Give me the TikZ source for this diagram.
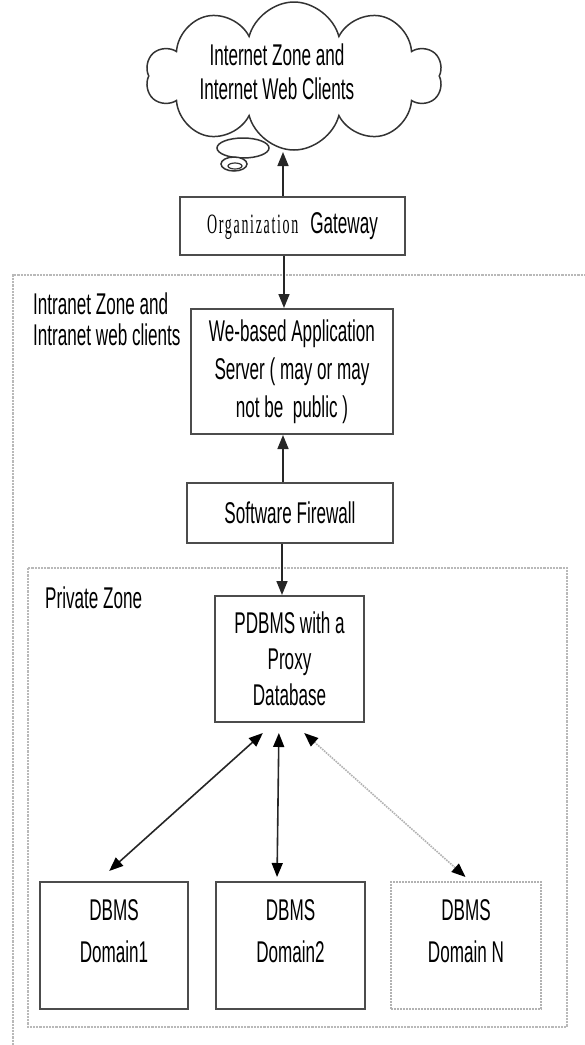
\documentclass[tikz,border=0pt]{standalone}
\usepackage{fontspec}
\setmainfont{Liberation Sans}[FakeStretch=0.57]
\newfontfamily\orgfont{Liberation Serif}[FakeStretch=0.5,LetterSpace=6]
\usetikzlibrary{positioning, shapes}
\usetikzlibrary{arrows.meta}

\begin{document}
\begin{tikzpicture}[x=1pt,y=-1pt,font=\fontsize{30}{34}\selectfont]
    \tikzset{box/.style = {draw=black!70, line width=2pt, fill=white, inner sep=0pt, align=center}}
    \tikzset{zone/.style = {draw=gray!55, line width=2.2pt, densely dotted}}
    \tikzset{edge/.style = {-{Triangle[length=14pt,width=11pt]}, line width=1.6pt, black!85}}
    \tikzset{dedge/.style = {{Triangle[length=14pt,width=11pt,color=black]}-{Triangle[length=14pt,width=11pt,color=black]}, line width=1.6pt, black!85}}
    \tikzset{dotedge/.style = {dedge, gray!60, densely dotted}}

    \useasboundingbox (0,0) rectangle (585,1045);

    % zones
    \draw[zone] (13,1045) |- (585,275);
    \draw[zone] (28,568) rectangle (567,1027);
    \node[anchor=west, align=left, inner sep=0pt] (intranet) at (33,319.5) {Intranet Zone and\\[-3pt]Intranet web clients};
    \node[anchor=west, inner sep=0pt] (private) at (45,598) {Private Zone};

    % internet cloud
    \draw[line width=1.5pt, black!80, fill=white] (243,148) ellipse (26pt and 10pt);
    \draw[line width=1.5pt, black!80, fill=white] (234,164) ellipse (13pt and 7pt);
    \draw[line width=1.2pt, black!80] (235,166) ellipse (7pt and 3pt);
    \node[cloud, cloud puffs=10, cloud ignores aspect, draw=black!80, line width=1.5pt, fill=white, minimum width=296pt, minimum height=148pt, inner sep=0pt] (inet) at (294,76) {};
    \node[align=center, inner sep=0pt] (inettxt) at (277,72) {Internet Zone and\\Internet Web Clients};
    \coordinate (cloudfoot) at (283,152);

    % boxes
    \node[box, minimum width=225pt, minimum height=58pt] (gw) at (292.5,226) {{\orgfont\fontsize{28}{30}\selectfont Organization}\hspace{12pt}Gateway};
    \node[box, minimum width=202pt, minimum height=125pt] (app) at (292,371.5) {We-based Application\\[4pt]Server ( may or may\\[4pt]not be\ \ public )};
    \node[box, minimum width=206pt, minimum height=60pt] (fw) at (290,513) {Software Firewall};
    \node[box, minimum width=149pt, minimum height=126pt] (pdbms) at (289.5,659) {PDBMS with a\\[2pt]Proxy\\[2pt]Database};

    % domains
    \node[box, minimum width=148pt, minimum height=127pt] (dom1) at (114,945.5) {};
    \node[box, minimum width=149pt, minimum height=127pt] (dom2) at (290.5,945.5) {};
    \node[box, draw=gray!60, densely dotted, minimum width=150pt, minimum height=127pt] (domn) at (466,945.5) {};
    \node[align=center, inner sep=0pt] (dom1txt) at (114,931) {DBMS\\[8pt]Domain1};
    \node[align=center, inner sep=0pt] (dom2txt) at (290.5,931) {DBMS\\[8pt]Domain2};
    \node[align=center, inner sep=0pt] (domntxt) at (466,931) {DBMS\\[8pt]Domain N};

    % arrows
    \draw[edge] (gw.north -| cloudfoot) -- (cloudfoot);
    \draw[edge] (gw.south -| 284,0) -- (app.north -| 284,0);
    \draw[edge] (fw.north -| 283,0) -- (app.south -| 283,0);
    \draw[edge] (fw.south -| 282,0) -- (pdbms.north -| 282,0);
    \draw[dedge, shorten <=15pt, shorten >=15pt] (pdbms.south -| 274,0) -- (dom1.north -| 98,0);
    \draw[dedge, shorten <=10pt, shorten >=4pt] (pdbms.south -| 279,0) -- (dom2.north -| 277,0);
    \draw[dotedge, shorten <=15pt, shorten >=6pt] (pdbms.south -| 293,0) -- (domn.north -| 470,0);
\end{tikzpicture}
\end{document}
